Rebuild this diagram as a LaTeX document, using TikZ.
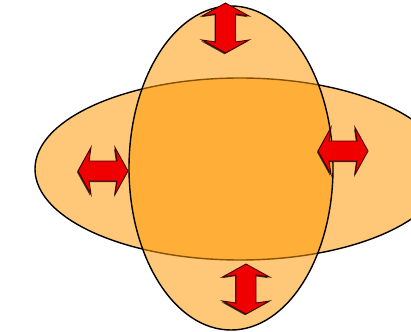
\documentclass[tikz,border=0pt]{standalone}
\usepackage{xcolor}
\usepackage{tikz}
\usetikzlibrary{calc}
\definecolor{lobeorange}{RGB}{255,151,0}
\definecolor{arrowred}{RGB}{240,0,0}

\begin{document}
\begin{tikzpicture}[
  x=1pt, y=-1pt,
  lobe/.style={fill=lobeorange, fill opacity=0.53, draw=black, line width=1.4pt},
  arrowbody/.style={fill=arrowred, draw=red!25!black, line width=0.9pt, line join=miter},
  arrowshadow/.style={fill=black!80}
]
  \useasboundingbox (0,0) rectangle (411,331);
  \clip (0,0) rectangle (411,331);
  % the two lobes
  \coordinate (wide) at (240,169);
  \coordinate (tall) at (231,168);
  \path[lobe] (wide) ellipse [x radius=205, y radius=91];
  \path[lobe] (tall) ellipse [x radius=102, y radius=162];
  % double arrows: name/x/y/angle
  \foreach \name/\ax/\ay/\ang in {
    top/225.5/28/90, left/103/171/0, right/343/151/0, bottom/246/289/90
  } {
    \coordinate (\name) at (\ax,\ay);
    \begin{scope}[shift={($(\name)+(-1,1.2)$)}, rotate=\ang]
      \fill[arrowshadow] (25,0) -- (12,-23.5) -- (14,-10) -- (-14,-10) -- (-12,-23.5) -- (-25,0)
        -- (-12,23.5) -- (-14,10) -- (14,10) -- (12,23.5) -- cycle;
    \end{scope}
    \begin{scope}[shift={(\name)}, rotate=\ang]
      \draw[arrowbody] (25,0) -- (12,-23.5) -- (14,-10) -- (-14,-10) -- (-12,-23.5) -- (-25,0)
        -- (-12,23.5) -- (-14,10) -- (14,10) -- (12,23.5) -- cycle;
    \end{scope}
  }
\end{tikzpicture}
\end{document}
